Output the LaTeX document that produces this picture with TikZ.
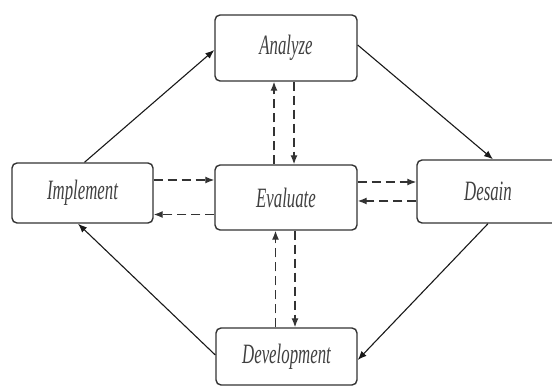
\documentclass[tikz,border=0pt]{standalone}
\usepackage{fontspec}
\setmainfont{Liberation Serif}
\usetikzlibrary{arrows.meta,calc}
\begin{document}
\begin{tikzpicture}[x=1pt,y=-1pt,
  box/.style={draw=black!80,line width=1.4pt,rounded corners=5pt,minimum width=#1,inner sep=0pt},
  solidarr/.style={line width=1.1pt,draw=black!90,-{Latex[length=9pt,width=7pt]}},
  dasharr/.style={line width=1.3pt,draw=black!80,dash pattern=on 9pt off 5pt,-{Latex[length=9pt,width=7pt]}}]
\useasboundingbox (0,0) rectangle (552,387);
\clip (0,0) rectangle (552,387);
\newcommand{\blabel}[1]{\scalebox{0.6}[1]{\fontsize{28}{30}\selectfont\itshape\color{black!75}#1}}
\node[box=142pt,minimum height=66pt] (A) at (286,48) {\blabel{Analyze}};
\node[box=141pt,minimum height=60pt] (I) at (82.5,193) {\blabel{Implement}};
\node[box=142pt,minimum height=65pt] (E) at (286,197.5) {\blabel{Evaluate}};
\node[box=142pt,minimum height=63pt] (D) at (488,191.5) {\blabel{Desain}};
\node[box=141pt,minimum height=57pt] (V) at (286.5,356.5) {\blabel{Development}};
% solid cycle
\draw[solidarr] ([xshift=2pt]I.north) -- ([yshift=-2pt]A.west);
\draw[solidarr] ([yshift=3pt]A.east) -- ([xshift=5pt]D.north);
\draw[solidarr] (D.south) -- ([yshift=-3.5pt]V.east);
\draw[solidarr] ([yshift=1.5pt]V.west) -- ([xshift=-4.5pt]I.south);
% dashed to/from Evaluate
\draw[dasharr] ([xshift=-12pt]E.north) -- ([xshift=-12pt]E.north |- A.south);
\draw[dasharr] ([xshift=8pt]A.south) -- ([xshift=8pt]A.south |- E.north);
\draw[dasharr] ([xshift=-11pt]V.north) -- ([xshift=-11pt]V.north |- E.south);
\draw[dasharr] ([xshift=9pt]E.south) -- ([xshift=9pt]E.south |- V.north);
\draw[dasharr] ([yshift=13pt]I.east) -- ([yshift=13pt]I.east -| E.west);
\draw[dasharr] ([yshift=-17pt]E.west) -- ([yshift=-17pt]E.west -| I.east);
\draw[dasharr] ([yshift=15.5pt]E.east) -- ([yshift=15.5pt]E.east -| D.west);
\draw[dasharr] ([yshift=-9.5pt]D.west) -- ([yshift=-9.5pt]D.west -| E.east);
\end{tikzpicture}
\end{document}
